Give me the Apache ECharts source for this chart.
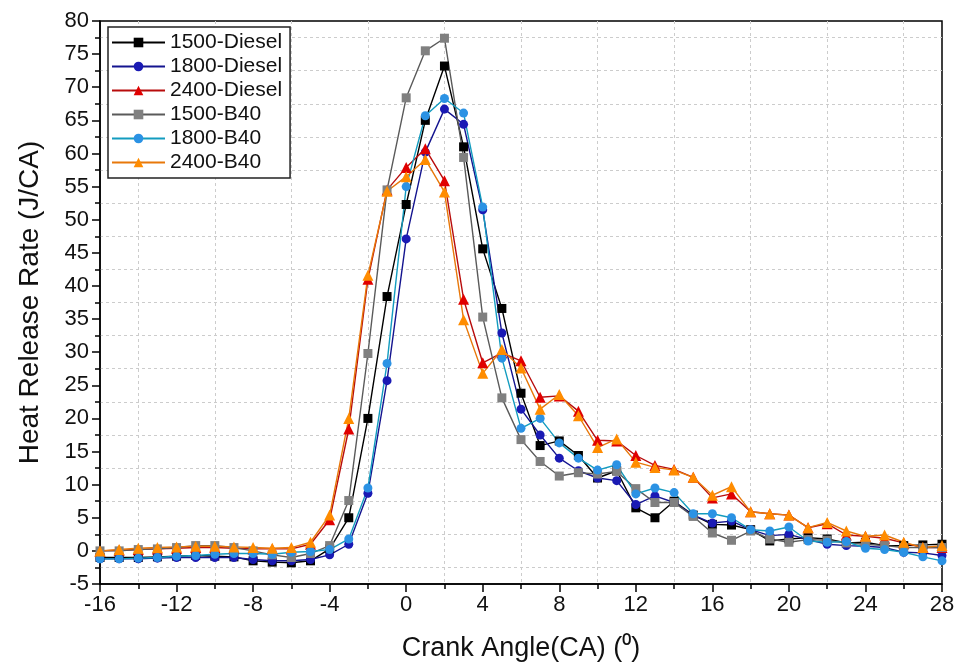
<!DOCTYPE html>
<html>
<head>
<meta charset="utf-8">
<script src="https://cdn.jsdelivr.net/npm/echarts@6/dist/echarts.min.js"></script>
<style>
html,body{margin:0;padding:0;background:#fff;}
#chart{width:959px;height:667px;}
</style>
</head>
<body>
<div id="chart"></div>
<script>
const crankAngle = [-16,-15,-14,-13,-12,-11,-10,-9,-8,-7,-6,-5,-4,-3,-2,-1,0,1,2,3,4,5,6,7,8,9,10,11,12,13,14,15,16,17,18,19,20,21,22,23,24,25,26,27,28];

const diesel1500 = [-1.0,-1.0,-1.0,-0.9,-0.8,-0.7,-0.8,-0.9,-1.5,-1.7,-1.8,-1.5,0.3,5.0,20.0,38.4,52.3,65.0,73.2,61.0,45.6,36.6,23.8,15.9,16.6,14.4,11.0,12.1,6.5,5.0,7.5,5.4,4.0,3.9,3.2,1.5,1.8,2.0,1.8,1.2,1.3,0.8,0.8,0.9,1.0];
const diesel1800 = [-1.2,-1.2,-1.2,-1.1,-1.0,-1.0,-1.0,-1.0,-1.3,-1.5,-1.5,-1.3,-0.6,1.0,8.7,25.7,47.1,60.2,66.7,64.4,51.5,32.9,21.4,17.5,14.0,12.1,11.0,10.6,7.0,8.3,7.3,5.4,4.2,4.5,3.2,2.3,2.5,1.7,1.0,0.8,0.7,0.5,-0.2,-0.3,-0.7];
const diesel2400 = [0.0,0.1,0.2,0.3,0.4,0.5,0.5,0.4,0.3,0.3,0.3,1.0,4.7,18.4,41.0,54.5,57.9,60.7,55.9,38.0,28.4,29.9,28.7,23.2,23.4,21.1,16.7,16.6,14.4,12.9,12.3,11.1,8.0,8.6,5.9,5.6,5.4,3.5,4.1,2.4,2.2,1.9,1.2,0.5,0.5];
const b40_1500 = [0.0,0.0,0.2,0.3,0.5,0.8,0.8,0.5,0.0,-0.6,-1.0,-0.4,0.8,7.6,29.8,54.5,68.4,75.5,77.4,59.4,35.3,23.1,16.8,13.5,11.3,11.8,11.6,12.0,9.4,7.3,7.3,5.2,2.7,1.6,3.0,1.8,1.3,1.7,1.6,1.2,1.0,0.8,0.5,0.5,0.5];
const b40_1800 = [-1.2,-1.2,-1.1,-1.0,-0.8,-0.7,-0.5,-0.4,-0.4,-0.5,-0.2,-0.1,0.2,1.8,9.5,28.3,55.0,65.7,68.3,66.1,51.9,29.1,18.5,20.0,16.3,14.0,12.2,13.0,8.6,9.5,8.8,5.6,5.6,5.0,3.2,3.0,3.6,1.5,1.3,1.4,0.4,0.2,-0.2,-0.9,-1.5];
const b40_2400 = [0.0,0.2,0.4,0.5,0.6,0.7,0.7,0.6,0.5,0.4,0.5,1.3,5.4,20.0,41.6,54.3,56.5,59.1,54.2,34.9,26.8,30.4,27.6,21.4,23.6,20.4,15.6,16.9,13.4,12.6,12.2,11.1,8.4,9.7,5.9,5.6,5.4,3.5,4.3,3.0,2.2,2.4,1.3,0.5,0.8];

const seriesNames = ['1500-Diesel','1800-Diesel','2400-Diesel','1500-B40','1800-B40','2400-B40'];
const seriesValues = [diesel1500, diesel1800, diesel2400, b40_1500, b40_1800, b40_2400];

const styles = [
  {line:'#000000', fill:'#000000', symbol:'rect', size:9},
  {line:'#14148f', fill:'#1a1ab4', symbol:'circle', size:9},
  {line:'#b80c0c', fill:'#e00000', symbol:'triangle', size:11},
  {line:'#5a5a5a', fill:'#808080', symbol:'rect', size:9},
  {line:'#139cbf', fill:'#2b92e4', symbol:'circle', size:9},
  {line:'#e8780a', fill:'#ff8c00', symbol:'triangle', size:11}
];

const FONT = '"Liberation Sans", Arial, sans-serif';

const series = seriesNames.map((name, i) => ({
  name: name,
  type: 'line',
  data: crankAngle.map((x, k) => [x, seriesValues[i][k]]),
  symbol: styles[i].symbol,
  symbolSize: styles[i].size,
  showAllSymbol: true,
  lineStyle: {color: styles[i].line, width: 1.4},
  itemStyle: {color: styles[i].fill, borderWidth: 0},
  emphasis: {disabled: true},
  animation: false
}));

const chart = echarts.init(document.getElementById('chart'), null, {renderer: 'canvas'});
chart.setOption({
  backgroundColor: '#ffffff',
  animation: false,
  grid: {
    left: 100, right: 17, top: 21, bottom: 83,
    show: true, borderColor: '#000', borderWidth: 1.5, backgroundColor: '#fff'
  },
  legend: {
    orient: 'vertical',
    left: 108, top: 27,
    itemWidth: 53, itemHeight: 12, itemGap: 3,
    padding: [5, 8, 5, 3],
    borderColor: '#222', borderWidth: 1.5,
    backgroundColor: '#fff',
    textStyle: {fontFamily: FONT, fontSize: 21, color: '#111'},
    data: seriesNames
  },
  xAxis: {
    type: 'value',
    min: -16, max: 28, interval: 4,
    name: 'Crank Angle(CA) (⁰)',
    nameLocation: 'middle', nameGap: 51,
    nameTextStyle: {fontFamily: FONT, fontSize: 27, color: '#111'},
    axisLine: {show: true, onZero: false, lineStyle: {color: '#000', width: 1.5}},
    axisTick: {show: true, length: 8, lineStyle: {color: '#000', width: 1.5}},
    minorTick: {show: true, splitNumber: 2, length: 5, lineStyle: {color: '#000', width: 1.5}},
    axisLabel: {fontFamily: FONT, fontSize: 22, color: '#111', margin: 10},
    splitLine: {show: false},
    minorSplitLine: {show: true, lineStyle: {color: '#cccccc', width: 1, type: [3, 3]}}
  },
  yAxis: {
    type: 'value',
    min: -5, max: 80, interval: 5,
    name: 'Heat Release Rate (J/CA)',
    nameLocation: 'middle', nameGap: 56, nameRotate: 90,
    nameTextStyle: {fontFamily: FONT, fontSize: 28, color: '#111'},
    axisLine: {show: true, onZero: false, lineStyle: {color: '#000', width: 1.5}},
    axisTick: {show: true, length: 8, lineStyle: {color: '#000', width: 1.5}},
    minorTick: {show: true, splitNumber: 2, length: 5, lineStyle: {color: '#000', width: 1.5}},
    axisLabel: {fontFamily: FONT, fontSize: 22, color: '#111', margin: 11},
    splitLine: {show: false},
    minorSplitLine: {show: true, lineStyle: {color: '#cccccc', width: 1, type: [3, 3]}}
  },
  series: series
});
</script>
</body>
</html>
